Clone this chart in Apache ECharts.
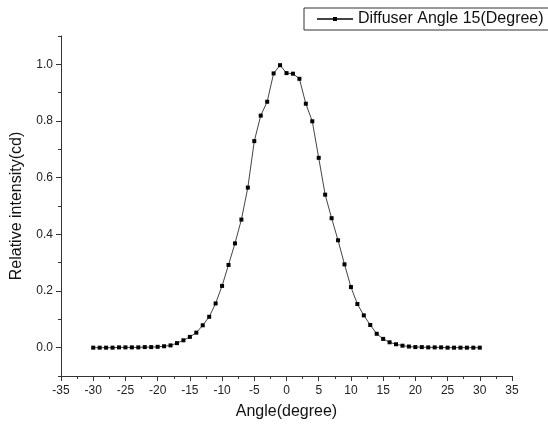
<!DOCTYPE html>
<html><head><meta charset="utf-8">
<script src="https://cdn.jsdelivr.net/npm/echarts@6/dist/echarts.min.js"></script>
<style>html,body{margin:0;padding:0;background:#fff}#c{width:548px;height:428px}</style>
</head><body><div id="c"></div>
<script>
const angles = [-30,-29,-28,-27,-26,-25,-24,-23,-22,-21,-20,-19,-18,-17,-16,-15,-14,-13,-12,-11,-10,-9,-8,-7,-6,-5,-4,-3,-2,-1,0,1,2,3,4,5,6,7,8,9,10,11,12,13,14,15,16,17,18,19,20,21,22,23,24,25,26,27,28,29,30];
const intensity = [0.000,0.000,0.000,0.000,0.001,0.001,0.001,0.001,0.002,0.002,0.003,0.005,0.008,0.016,0.026,0.038,0.053,0.079,0.109,0.156,0.218,0.292,0.368,0.452,0.565,0.729,0.819,0.868,0.968,0.997,0.969,0.967,0.949,0.861,0.799,0.670,0.540,0.457,0.379,0.294,0.214,0.154,0.114,0.080,0.049,0.031,0.019,0.012,0.007,0.004,0.002,0.002,0.001,0.001,0.001,0.000,0.000,0.000,0.000,0.000,0.000];
const seriesName = 'Diffuser Angle 15(Degree)';
const yMajor = [0.0,0.2,0.4,0.6,0.8,1.0];
const yMinor = [-0.1,0.1,0.3,0.5,0.7,0.9,1.1];

const font = 'Liberation Sans, Arial, sans-serif';
const chart = echarts.init(document.getElementById('c'));
chart.setOption({
  animation:false,
  backgroundColor:'#fff',
  grid:{left:61,right:36,top:36,bottom:52,containLabel:false},
  legend:{
    data:[seriesName], left:304, top:8,
    borderColor:'#333', borderWidth:1, borderRadius:0,
    padding:[3,20,3,12], itemWidth:36, itemHeight:5, itemGap:6,
    textStyle:{fontFamily:font,fontSize:16,color:'#111'}
  },
  xAxis:{
    type:'value', min:-35, max:35, interval:5,
    name:'Angle(degree)', nameLocation:'middle', nameGap:28,
    nameTextStyle:{fontFamily:font,fontSize:16,color:'#111'},
    axisLine:{show:true,onZero:false,lineStyle:{color:'#333',width:1}},
    axisTick:{show:true,inside:false,length:5,lineStyle:{color:'#333'}},
    minorTick:{show:true,splitNumber:2,length:3,lineStyle:{color:'#333'}},
    axisLabel:{fontFamily:font,fontSize:12,color:'#222',margin:9},
    splitLine:{show:false}
  },
  yAxis:[{
    type:'value', min:-0.1, max:1.1,
    name:'Relative intensity(cd)', nameLocation:'middle', nameGap:36,
    nameTextStyle:{fontFamily:font,fontSize:16,color:'#111'},
    axisLine:{show:true,onZero:false,lineStyle:{color:'#333',width:1}},
    axisTick:{show:true,length:5,customValues:yMajor,lineStyle:{color:'#333'}},
    axisLabel:{fontFamily:font,fontSize:12,color:'#222',margin:8,customValues:yMajor,
      formatter:v=>v.toFixed(1)},
    splitLine:{show:false}
  },{
    type:'value', min:-0.1, max:1.1, position:'left',
    axisLine:{show:false,onZero:false},
    axisTick:{show:true,length:3,customValues:yMinor,lineStyle:{color:'#333'}},
    axisLabel:{show:false},
    splitLine:{show:false}
  }],
  series:[{
    name:seriesName, type:'line',
    data:angles.map((a,i)=>[a,intensity[i]]),
    symbol:'rect', symbolSize:4, showSymbol:true,
    lineStyle:{color:'#444',width:1},
    itemStyle:{color:'#000'}
  }]
});
</script></body></html>
